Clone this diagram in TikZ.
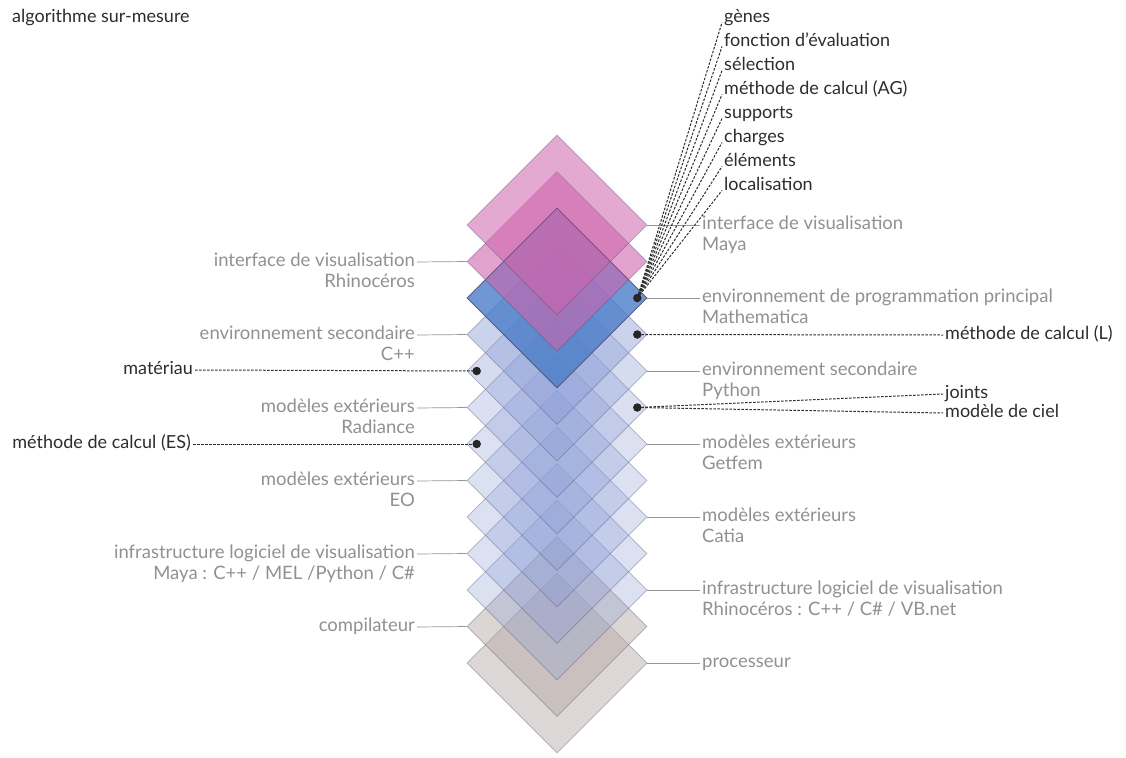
\documentclass[tikz,border=0pt]{standalone}
\usepackage{fontspec}
\setmainfont{Lato}
\usetikzlibrary{shapes.geometric}
\usetikzlibrary{positioning}

\definecolor{rose}{RGB}{205,100,172}
\definecolor{steel}{RGB}{75,125,200}
\definecolor{mist}{RGB}{140,158,215}
\definecolor{stone}{RGB}{185,172,168}
\definecolor{edge}{RGB}{80,75,115}
\definecolor{labelgray}{RGB}{145,145,145}
\definecolor{notegray}{RGB}{45,45,45}
\definecolor{linkgray}{RGB}{150,150,150}

\begin{document}
\begin{tikzpicture}[x=1pt,y=-1pt,
  layer/.style={diamond, minimum width=180pt, minimum height=180pt, inner sep=0pt,
    draw=edge, draw opacity=0.4, line width=0.6pt},
  lbl/.style={text=labelgray, font=\fontsize{18.5}{21}\selectfont, inner sep=2pt,
    text height=13pt, text depth=4pt},
  note/.style={lbl, text=notegray, font=\fontsize{18}{21}\selectfont},
  link/.style={draw=linkgray, line width=0.7pt},
  lead/.style={draw=notegray, line width=1pt, dash pattern=on 2.5pt off 1.5pt},
  dot/.style={circle, fill=black!85, inner sep=0pt, minimum size=8.5pt}]
\useasboundingbox (0,0) rectangle (1126,757);
\fill[white] (0,0) rectangle (1126,757);

% stack of layers, bottom one first
\foreach \i/\col/\op in {13/stone/.48,12/stone/.5,11/mist/.3,10/mist/.3,9/mist/.3,
    8/mist/.3,7/mist/.3,6/mist/.32,5/mist/.36,4/mist/.45,3/steel/.8,2/rose/.6,1/rose/.55}
  \node[layer, fill=\col, fill opacity=\op] (d\i) at (557,{225+(\i-1)*36.5}) {};
\node[layer, fill=none, draw opacity=0.8] at (d3) {};

% right hand labels
\node[lbl, anchor=west] (r1) at (700,225) {interface de visualisation};
\node[lbl, anchor=north west] (r1b) at (r1.south west) {Maya};
\node[lbl, anchor=west] (r3) at (700,298) {environnement de programmation principal};
\node[lbl, anchor=north west] (r3b) at (r3.south west) {Mathematica};
\node[lbl, anchor=west] (r5) at (700,371) {environnement secondaire};
\node[lbl, anchor=north west] (r5b) at (r5.south west) {Python};
\node[lbl, anchor=west] (r7) at (700,444) {modèles extérieurs};
\node[lbl, anchor=north west] (r7b) at (r7.south west) {Getfem};
\node[lbl, anchor=west] (r9) at (700,517) {modèles extérieurs};
\node[lbl, anchor=north west] (r9b) at (r9.south west) {Catia};
\node[lbl, anchor=west] (r11) at (700,590) {infrastructure logiciel de visualisation};
\node[lbl, anchor=north west] (r11b) at (r11.south west) {Rhinocéros : C++ / C\# / VB.net};
\node[lbl, anchor=west] (r13) at (700,663) {processeur};
\foreach \i in {1,3,5,7,9,11,13}
  \draw[link] (d\i.east) -- (r\i.west);

% left hand labels
\node[lbl, anchor=east] (l2) at (417,262) {interface de visualisation};
\node[lbl, anchor=north east] (l2b) at (l2.south east) {Rhinocéros};
\node[lbl, anchor=east] (l4) at (417,335) {environnement secondaire};
\node[lbl, anchor=north east] (l4b) at (l4.south east) {C++};
\node[lbl, anchor=east] (l6) at (417,408) {modèles extérieurs};
\node[lbl, anchor=north east] (l6b) at (l6.south east) {Radiance};
\node[lbl, anchor=east] (l8) at (417,481) {modèles extérieurs};
\node[lbl, anchor=north east] (l8b) at (l8.south east) {EO};
\node[lbl, anchor=east] (l10) at (417,554) {infrastructure logiciel de visualisation};
\node[lbl, anchor=north east] (l10b) at (l10.south east) {Maya : C++ / MEL /Python / C\#};
\node[lbl, anchor=east] (l12) at (417,627) {compilateur};
\foreach \i in {2,4,6,8,10,12}
  \draw[link] (l\i.east) -- (d\i.west);

% points picked out on the layers
\coordinate (pMain) at ([xshift=-10pt]d3.east);
\coordinate (pL) at ([xshift=-10pt]d4.east);
\coordinate (pSky) at ([xshift=-10pt]d6.east);
\coordinate (pMat) at ([xshift=10pt]d5.west);
\coordinate (pES) at ([xshift=10pt]d7.west);

% what the main environment holds
\foreach \t [count=\k] in {gènes, fonction d’évaluation, sélection,
    méthode de calcul (AG), supports, charges, éléments, localisation} {
  \node[note, anchor=west] (g\k) at (722,{18+24*(\k-1)}) {\t};
  \draw[lead] (pMain) -- (g\k.base west);
}

\node[note, anchor=west] (nL) at (943,335) {méthode de calcul (L)};
\node[note, anchor=west] (nJoint) at (943,394) {joints};
\node[note, anchor=west] (nSky) at (943,413) {modèle de ciel};
\node[note, anchor=east] (nMat) at (195,370) {matériau};
\node[note, anchor=east] (nES) at (193,444) {méthode de calcul (ES)};
\draw[lead] (pL) -- (nL.west);
\draw[lead] (pSky) -- (nJoint.west);
\draw[lead] (pSky) -- (nSky.west);
\draw[lead] (nMat.east) -- (pMat);
\draw[lead] (nES.east) -- (pES);

\foreach \p in {pMain,pL,pSky,pMat,pES}
  \node[dot] at (\p) {};

\node[note, anchor=west] (title) at (10,18) {algorithme sur-mesure};
\end{tikzpicture}
\end{document}
